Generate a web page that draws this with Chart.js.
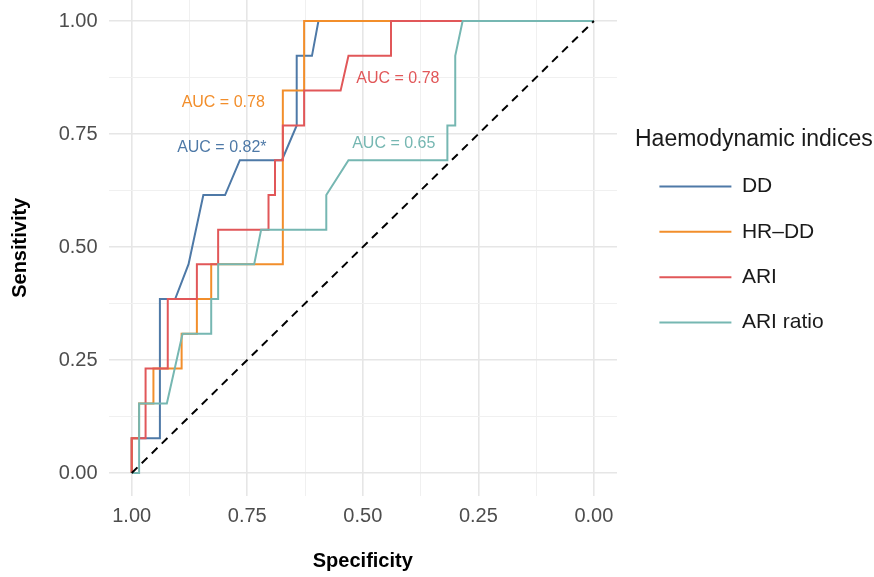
<!DOCTYPE html>
<html>
<head>
<meta charset="utf-8">
<script src="https://cdn.jsdelivr.net/npm/chart.js@4.4.1/dist/chart.umd.min.js"></script>
<style>
  html, body { margin: 0; padding: 0; background: #fff; }
  #wrap { width: 874px; height: 577px; }
</style>
</head>
<body>
<div id="wrap"><canvas id="roc" width="874" height="577"></canvas></div>
<script>
// --- Data (specificity, sensitivity) ---
const seriesNames = ['DD', 'HR\u2013DD', 'ARI', 'ARI ratio'];
const seriesColors = ['#4E79A7', '#F28E2B', '#E15759', '#76B7B2'];

const ddSpec = [1, 1, 0.939, 0.939, 0.906, 0.877, 0.845, 0.798, 0.766, 0.675, 0.643, 0.643, 0.610, 0.596, 0];
const ddSens = [0, 0.077, 0.077, 0.385, 0.385, 0.462, 0.615, 0.615, 0.692, 0.692, 0.769, 0.923, 0.923, 1, 1];

const hrddSpec = [1, 1, 0.984, 0.984, 0.953, 0.953, 0.892, 0.892, 0.859, 0.859, 0.828, 0.828, 0.673, 0.673, 0.627, 0.627, 0];
const hrddSens = [0, 0.077, 0.077, 0.154, 0.154, 0.231, 0.231, 0.308, 0.308, 0.385, 0.385, 0.462, 0.462, 0.846, 0.846, 1, 1];

const ariSpec = [1, 1, 0.970, 0.970, 0.922, 0.922, 0.859, 0.859, 0.813, 0.813, 0.704, 0.704, 0.690, 0.690, 0.673, 0.673, 0.627, 0.627, 0.548, 0.531, 0.439, 0.439, 0];
const ariSens = [0, 0.077, 0.077, 0.231, 0.231, 0.385, 0.385, 0.462, 0.462, 0.538, 0.538, 0.615, 0.615, 0.692, 0.692, 0.769, 0.769, 0.846, 0.846, 0.923, 0.923, 1, 1];

const ratioSpec = [1, 0.984, 0.984, 0.924, 0.890, 0.828, 0.828, 0.813, 0.813, 0.735, 0.720, 0.579, 0.579, 0.531, 0.317, 0.317, 0.300, 0.300, 0.284, 0];
const ratioSens = [0, 0, 0.154, 0.154, 0.308, 0.308, 0.385, 0.385, 0.462, 0.462, 0.538, 0.538, 0.615, 0.692, 0.692, 0.769, 0.769, 0.923, 1, 1];

const chanceSpec = [1, 0];
const chanceSens = [0, 1];

const tickValues = [0, 0.125, 0.25, 0.375, 0.5, 0.625, 0.75, 0.875, 1];

// AUC annotations
const aucText = ['AUC = 0.82*', 'AUC = 0.78', 'AUC = 0.78', 'AUC = 0.65'];
const aucSpec = [0.805, 0.802, 0.424, 0.433];
const aucSens = [0.720, 0.819, 0.873, 0.729];

// --- Helpers ---
const FONT = "'Liberation Sans', Arial, Helvetica, sans-serif";

function toPoints(xs, ys) {
    return xs.map((x, i) => ({ x: x, y: ys[i] }));
}

function isMajor(v) {
    return Math.abs(v * 4 - Math.round(v * 4)) < 1e-9;
}

const specs = [ddSpec, hrddSpec, ariSpec, ratioSpec];
const senss = [ddSens, hrddSens, ariSens, ratioSens];

const datasets = seriesNames.map((name, i) => ({
    label: name,
    data: toPoints(specs[i], senss[i]),
    borderColor: seriesColors[i],
    backgroundColor: seriesColors[i],
    borderWidth: 2,
    pointRadius: 0,
    tension: 0,
    order: 4 - i
}));
datasets.push({
    label: 'chance',
    data: toPoints(chanceSpec, chanceSens),
    borderColor: '#000',
    borderWidth: 2,
    borderDash: [8, 6],
    pointRadius: 0,
    order: 0
});

// --- Plugins ---
const legendPlacement = {
    id: 'legendPlacement',
    afterInit(chart) {
        const legend = chart.legend;
        const fit = legend.fit;
        legend.fit = function() {
            fit.call(this);
            this.width = 874 - 617;
        };
    },
    afterLayout(chart) {
        chart.legend.left = 635;
    }
};

const aucLabels = {
    id: 'aucLabels',
    afterDatasetsDraw(chart) {
        const ctx = chart.ctx;
        const xs = chart.scales.x, ys = chart.scales.y;
        ctx.save();
        ctx.font = '16px ' + FONT;
        ctx.textAlign = 'center';
        ctx.textBaseline = 'middle';
        aucText.forEach((t, i) => {
            ctx.fillStyle = seriesColors[i];
            ctx.fillText(t, xs.getPixelForValue(aucSpec[i]), ys.getPixelForValue(aucSens[i]));
        });
        ctx.restore();
    }
};

// --- Chart ---
const gridStyle = {
    color: ctx => isMajor(ctx.tick.value) ? '#e6e6e6' : '#f0f0f0',
    lineWidth: ctx => isMajor(ctx.tick.value) ? 1.6 : 1,
    drawTicks: false
};

new Chart(document.getElementById('roc').getContext('2d'), {
    type: 'line',
    data: { datasets: datasets },
    options: {
        responsive: false,
        animation: false,
        devicePixelRatio: 1,
        layout: { padding: 0 },
        plugins: {
            tooltip: { enabled: false },
            legend: {
                display: true,
                position: 'right',
                align: 'start',
                title: {
                    display: true,
                    text: 'Haemodynamic indices',
                    position: 'start',
                    color: '#1a1a1a',
                    font: { family: FONT, size: 23, lineHeight: 1 },
                    padding: { top: 128.5, bottom: 0 }
                },
                labels: {
                    usePointStyle: true,
                    pointStyle: 'line',
                    pointStyleWidth: 72,
                    color: '#1a1a1a',
                    font: { family: FONT, size: 21 },
                    padding: 24.4,
                    filter: item => item.datasetIndex < 4,
                    sort: (a, b) => a.datasetIndex - b.datasetIndex
                }
            }
        },
        scales: {
            x: {
                type: 'linear',
                reverse: true,
                min: -0.05,
                max: 1.05,
                afterBuildTicks: s => { s.ticks = tickValues.map(v => ({ value: v })); },
                afterFit: s => { s.height = 81.4; s.paddingLeft = 0; s.paddingRight = 0; },
                grid: gridStyle,
                border: { display: false },
                ticks: {
                    autoSkip: false,
                    maxRotation: 0,
                    padding: 9,
                    color: '#4d4d4d',
                    font: { family: FONT, size: 20 },
                    callback: v => isMajor(v) ? v.toFixed(2) : ''
                },
                title: {
                    display: true,
                    text: 'Specificity',
                    color: '#000',
                    font: { family: FONT, size: 20, weight: 'bold' },
                    padding: { top: 0, bottom: 4 }
                }
            },
            y: {
                type: 'linear',
                min: -0.05,
                max: 1.0465,
                afterBuildTicks: s => { s.ticks = tickValues.map(v => ({ value: v })); },
                afterFit: s => { s.width = 108.6; s.paddingTop = 0; s.paddingBottom = 0; },
                grid: gridStyle,
                border: { display: false },
                ticks: {
                    autoSkip: false,
                    padding: 11,
                    color: '#4d4d4d',
                    font: { family: FONT, size: 20 },
                    callback: v => isMajor(v) ? v.toFixed(2) : ''
                },
                title: {
                    display: true,
                    text: 'Sensitivity',
                    color: '#000',
                    font: { family: FONT, size: 20, weight: 'bold' },
                    padding: { top: 8, bottom: 0 }
                }
            }
        }
    },
    plugins: [legendPlacement, aucLabels]
});
</script>
</body>
</html>
